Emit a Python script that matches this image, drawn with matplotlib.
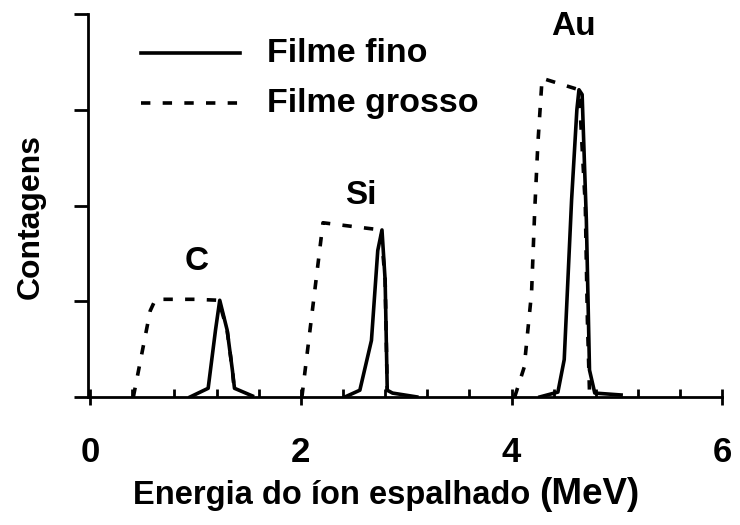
import matplotlib
matplotlib.use("Agg")
import matplotlib.pyplot as plt
from matplotlib.ticker import MultipleLocator

# RBS spectra (energy in MeV, counts in arbitrary units)
fino_c_x = [0.95, 1.12, 1.19, 1.23, 1.30, 1.35, 1.37, 1.54]
fino_c_y = [0.0, 0.09, 0.70, 1.01, 0.70, 0.28, 0.09, 0.01]
fino_si_x = [2.42, 2.56, 2.67, 2.73, 2.77, 2.80, 2.82, 2.87, 3.10]
fino_si_y = [0.0, 0.07, 0.59, 1.53, 1.745, 1.22, 0.07, 0.04, 0.0]
fino_au_x = [4.27, 4.44, 4.50, 4.57, 4.62, 4.64, 4.67, 4.71, 4.74, 4.79, 5.04]
fino_au_y = [0.0, 0.05, 0.39, 2.06, 3.00, 3.21, 3.16, 1.85, 0.28, 0.04, 0.02]

grosso_c_x = [0.41, 0.57, 0.62, 1.00, 1.22, 1.30, 1.35, 1.37]
grosso_c_y = [0.0, 0.90, 1.02, 1.02, 1.01, 0.70, 0.28, 0.05]
grosso_si_x = [2.01, 2.21, 2.50, 2.76, 2.80, 2.82]
grosso_si_y = [0.0, 1.82, 1.78, 1.745, 1.22, 0.05]
grosso_au_x = [4.03, 4.12, 4.19, 4.22, 4.25, 4.29, 4.64, 4.70, 4.72, 4.74]
grosso_au_y = [0.0, 0.31, 1.09, 1.95, 2.65, 3.33, 3.21, 2.00, 0.80, 0.05]

peak_labels = ["C", "Si", "Au"]
peak_label_x = [1.01, 2.57, 4.59]
peak_label_y = [1.42, 2.11, 3.87]

plt.rcParams["font.family"] = ["Liberation Sans", "DejaVu Sans"]
plt.rcParams["font.weight"] = "bold"

fig = plt.figure(figsize=(7.4, 5.25), dpi=100)
ax = fig.add_axes([0.119, 0.244, 0.857, 0.729])

lw = 2.6
dash = (0, (2.6, 3.4))
for xs, ys in [(fino_c_x, fino_c_y), (fino_si_x, fino_si_y), (fino_au_x, fino_au_y)]:
    ax.plot(xs, ys, color="black", lw=lw, solid_joinstyle="round")
for xs, ys in [(grosso_c_x, grosso_c_y), (grosso_si_x, grosso_si_y), (grosso_au_x, grosso_au_y)]:
    ax.plot(xs, ys, color="black", lw=lw, ls=dash)

for lab, x, y in zip(peak_labels, peak_label_x, peak_label_y):
    ax.text(x, y, lab, ha="center", va="center", fontsize=24, fontweight="bold")

# hand-drawn legend
ax.plot([0.48, 1.42], [3.59, 3.59], color="black", lw=lw)
ax.plot([0.48, 1.42], [3.07, 3.07], color="black", lw=lw, ls=dash)
ax.text(1.68, 3.59, "Filme fino", ha="left", va="center", fontsize=24.5, fontweight="bold")
ax.text(1.68, 3.07, "Filme grosso", ha="left", va="center", fontsize=24.5, fontweight="bold")

ax.set_xlim(-0.02, 6.0)
ax.set_ylim(0, 4)
for side in ("top", "right"):
    ax.spines[side].set_visible(False)
for side in ("left", "bottom"):
    ax.spines[side].set_linewidth(2.0)

ax.xaxis.set_major_locator(MultipleLocator(2))
ax.xaxis.set_minor_locator(MultipleLocator(0.4))
ax.tick_params(axis="x", which="major", direction="inout", length=12, width=2,
               pad=22, labelsize=25)
ax.tick_params(axis="x", which="minor", direction="in", length=6, width=2)
ax.yaxis.set_major_locator(MultipleLocator(1))
ax.tick_params(axis="y", which="major", direction="out", length=10, width=2, labelleft=False)
for lab in ax.get_xticklabels():
    lab.set_fontweight("bold")

# x label in two pieces, the unit a bit larger
fig.text(0.716, 0.040, "Energia do íon espalhado", ha="right", va="baseline",
         fontsize=23.5, fontweight="bold")
fig.text(0.729, 0.040, "(MeV)", ha="left", va="baseline",
         fontsize=26.5, fontweight="bold")
fig.text(0.041, 0.588, "Contagens", ha="center", va="center", rotation=90,
         fontsize=23, fontweight="bold")

fig.savefig("out.png", dpi=100, facecolor="white")
